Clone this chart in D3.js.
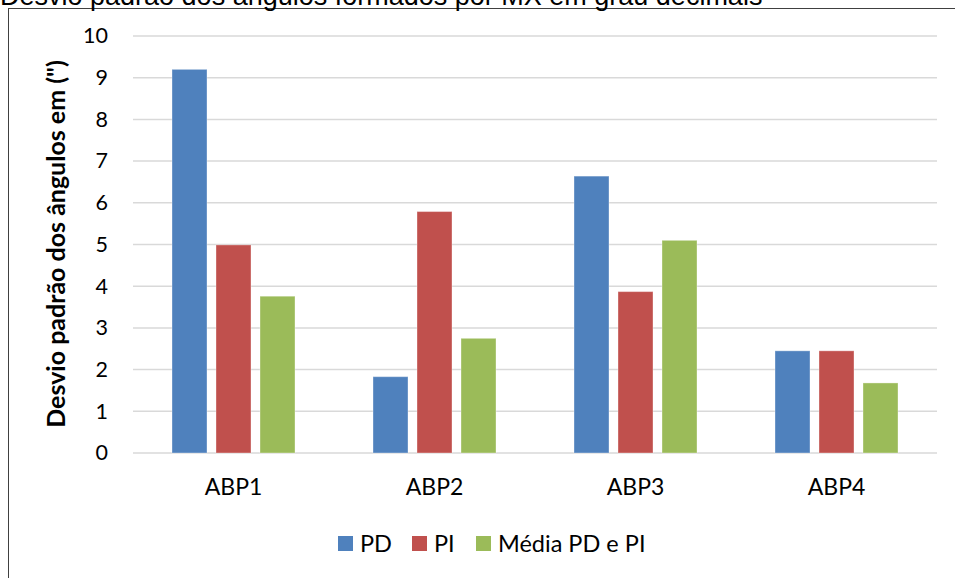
<!DOCTYPE html>
<html><head><meta charset="utf-8">
<script src="https://cdn.jsdelivr.net/npm/d3@7"></script>
<style>body{margin:0;background:#fff}svg{display:block}</style>
</head><body>
<script>
const categories = ["ABP1","ABP2","ABP3","ABP4"];
const seriesNames = ["PD","PI","Média PD e PI"];
const seriesColors = ["#4f81bd","#c0504d","#9bbb59"];
const PD = [9.2, 1.83, 6.64, 2.45];
const PI = [4.99, 5.79, 3.87, 2.45];
const media = [3.76, 2.75, 5.10, 1.68];
const yTicks = [0,1,2,3,4,5,6,7,8,9,10];
const seriesValues = [PD, PI, media];

const W = 955, H = 578;
const svg = d3.select("body").append("svg").attr("width", W).attr("height", H);

// outer chart border
svg.append("rect").attr("x", 8.5).attr("y", 8.5).attr("width", W + 10).attr("height", H + 10)
  .attr("fill", "none").attr("stroke", "#404040").attr("stroke-width", 1);

// cut title
svg.append("text").attr("x", 0).attr("y", 5)
  .attr("font-family", "Liberation Sans, Arial, sans-serif").attr("font-size", 27)
  .attr("fill", "#000").text("Desvio padrão dos ângulos formados por MX em grau decimais");

const plotL = 133, plotR = 937, plotT = 36, plotB = 453;
const y = d3.scaleLinear().domain([0, 10]).range([plotB, plotT]);
const x0 = d3.scaleBand().domain(categories).range([plotL, plotR]).padding(0);
const step = x0.bandwidth();
const groupW = step * 123 / 201;
const x1 = d3.scaleBand().domain(seriesNames)
  .range([(step - groupW) / 2, (step + groupW) / 2]).paddingInner(9 / 44).paddingOuter(0);

const font = "Lato, 'Open Sans', sans-serif";

// gridlines
svg.append("g").selectAll("line").data(yTicks).join("line")
  .attr("x1", plotL).attr("x2", plotR)
  .attr("y1", d => y(d)).attr("y2", d => y(d))
  .attr("stroke", "#d9d9d9").attr("stroke-width", 1.5);

// y axis labels
const yAxis = d3.axisLeft(y).tickValues(yTicks).tickSize(0).tickPadding(0);
const gy = svg.append("g").attr("transform", `translate(108,0)`).call(yAxis);
gy.select(".domain").remove();
gy.selectAll("text").attr("font-family", font).attr("font-size", 21.5).attr("fill", "#000");

// bars
const groups = svg.append("g").selectAll("g").data(categories).join("g")
  .attr("transform", d => `translate(${x0(d)},0)`);
groups.selectAll("rect")
  .data((c, i) => seriesNames.map((s, k) => ({ s, k, v: seriesValues[k][i] })))
  .join("rect")
  .attr("x", d => x1(d.s)).attr("width", x1.bandwidth())
  .attr("y", d => y(d.v)).attr("height", d => y(0) - y(d.v))
  .attr("fill", d => seriesColors[d.k])
  .attr("stroke", "#fff").attr("stroke-opacity", 0.35).attr("stroke-width", 1);

// x axis labels
const xAxis = d3.axisBottom(x0).tickSize(0).tickPadding(0);
const gx = svg.append("g").attr("transform", `translate(0,495)`).call(xAxis);
gx.select(".domain").remove();
gx.selectAll("text").attr("font-family", font).attr("font-size", 23).attr("fill", "#000")
  .attr("y", 0).attr("dy", 0);

// y title
svg.append("text").attr("transform", `translate(65,244) rotate(-90)`)
  .attr("text-anchor", "middle").attr("font-family", font).attr("font-weight", "bold")
  .attr("font-size", 25).attr("fill", "#000").text("Desvio padrão dos ângulos em (\")");

// legend
const legX = [338, 412, 476];
const leg = svg.append("g").selectAll("g").data(seriesNames).join("g")
  .attr("transform", (d, i) => `translate(${legX[i]},536)`);
leg.append("rect").attr("width", 15).attr("height", 15).attr("fill", (d, i) => seriesColors[i]);
leg.append("text").attr("x", 22).attr("y", 15.5)
  .attr("font-family", font).attr("font-size", 23.5).attr("fill", "#000").text(d => d);
</script>
</body></html>
